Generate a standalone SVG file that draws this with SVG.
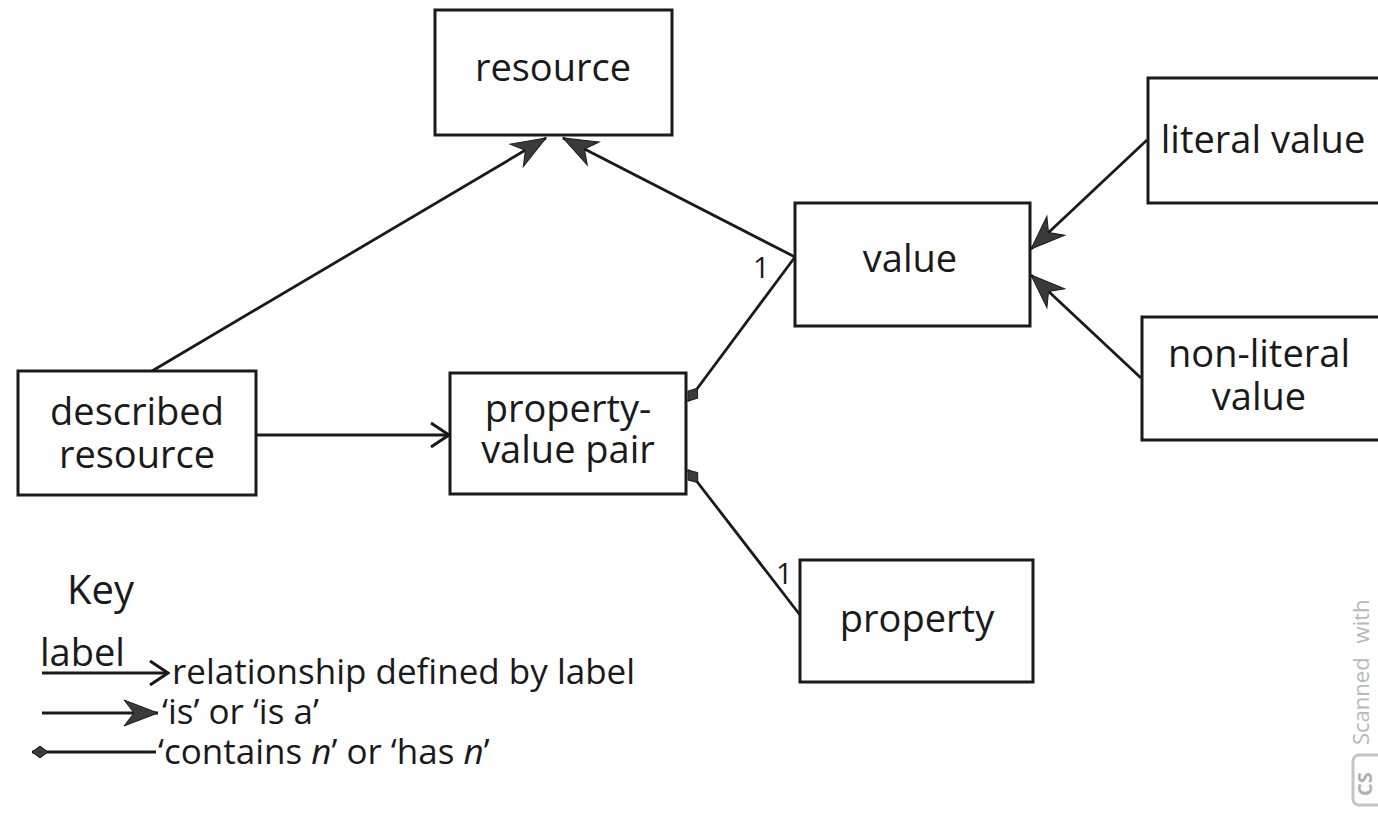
<svg xmlns="http://www.w3.org/2000/svg" width="1378" height="813" viewBox="0 0 1378 813">
  <style>
    .box { fill: #ffffff; stroke: #1a1a1a; stroke-width: 3; }
    .lbl { font-family: "Open Sans", "Noto Sans", "Liberation Sans", sans-serif; font-size: 38px; fill: #1a1a1a; text-anchor: middle; }
    .key { font-family: "Open Sans", "Noto Sans", "Liberation Sans", sans-serif; font-size: 35px; fill: #1a1a1a; }
    .num { font-family: "Open Sans", "Noto Sans", "Liberation Sans", sans-serif; font-size: 29px; fill: #1a1a1a; }
    .edge { fill: none; stroke: #1a1a1a; stroke-width: 2.8; }
    .mark { font-family: "Open Sans", "Noto Sans", "Liberation Sans", sans-serif; font-size: 22px; fill: #b8b8b8; }
  </style>
  <defs>
    <!-- filled barbed arrowhead: 'is' / 'is a' -->
    <marker id="isA" markerUnits="userSpaceOnUse" viewBox="-36 -15 38 30" refX="0" refY="0" markerWidth="38" markerHeight="30" orient="auto">
      <path d="M0,0 L-34,-13 L-24,0 L-34,13 Z" fill="#3a3a3a" stroke="#1a1a1a" stroke-width="1"/>
    </marker>
    <!-- open chevron: relationship defined by label -->
    <marker id="rel" markerUnits="userSpaceOnUse" viewBox="-22 -14 24 28" refX="0" refY="0" markerWidth="24" markerHeight="28" orient="auto">
      <path d="M-18,-12 L0,0 L-18,12" fill="none" stroke="#1a1a1a" stroke-width="3"/>
    </marker>
    <!-- small diamond: 'contains n' / 'has n' -->
    <marker id="has" markerUnits="userSpaceOnUse" viewBox="-1 -8 18 16" refX="0" refY="0" markerWidth="18" markerHeight="16" orient="auto">
      <path d="M0,0 L8,-6 L16,0 L8,6 Z" fill="#3a3a3a" stroke="#1a1a1a" stroke-width="1"/>
    </marker>
  </defs>

  <rect width="1378" height="813" fill="#ffffff"/>

  <!-- connectors -->
  <g id="connectors">
    <line class="edge" x1="152" y1="371" x2="546" y2="138" marker-end="url(#isA)"/>
    <line class="edge" x1="795" y1="257" x2="563" y2="138" marker-end="url(#isA)"/>
    <line class="edge" x1="1147" y1="140" x2="1031" y2="249" marker-end="url(#isA)"/>
    <line class="edge" x1="1141" y1="378" x2="1031" y2="275" marker-end="url(#isA)"/>
    <line class="edge" x1="688" y1="401" x2="795" y2="257" marker-start="url(#has)"/>
    <line class="edge" x1="688" y1="470" x2="800" y2="615" marker-start="url(#has)"/>
    <line class="edge" x1="257" y1="435" x2="449" y2="435" marker-end="url(#rel)"/>
    <text class="num" x="753" y="278">1</text>
    <text class="num" x="776" y="584">1</text>
  </g>

  <!-- nodes -->
  <g id="resource">
    <rect class="box" x="435" y="10" width="237" height="125"/>
    <text class="lbl" x="553" y="81">resource</text>
  </g>
  <g id="value">
    <rect class="box" x="795" y="203" width="235" height="123"/>
    <text class="lbl" x="910" y="272">value</text>
  </g>
  <g id="literal-value">
    <rect class="box" x="1148" y="78" width="240" height="125"/>
    <text class="lbl" x="1263" y="153">literal value</text>
  </g>
  <g id="non-literal-value">
    <rect class="box" x="1142" y="317" width="246" height="123"/>
    <text class="lbl" x="1259" y="367">non-literal</text>
    <text class="lbl" x="1259" y="410">value</text>
  </g>
  <g id="described-resource">
    <rect class="box" x="18" y="371" width="238" height="124"/>
    <text class="lbl" x="137" y="425">described</text>
    <text class="lbl" x="137" y="468">resource</text>
  </g>
  <g id="property-value-pair">
    <rect class="box" x="450" y="373" width="236" height="121"/>
    <text class="lbl" x="568" y="422">property-</text>
    <text class="lbl" x="568" y="463">value pair</text>
  </g>
  <g id="property">
    <rect class="box" x="800" y="560" width="233" height="122"/>
    <text class="lbl" x="917" y="632">property</text>
  </g>

  <!-- key -->
  <g id="key">
    <text class="key" x="67" y="604" style="font-size:40px">Key</text>
    <text class="key" x="40" y="666" style="font-size:38px">label</text>
    <line class="edge" x1="42" y1="673" x2="168" y2="673" marker-end="url(#rel)"/>
    <text class="key" x="172" y="684">relationship defined by label</text>
    <line class="edge" x1="42" y1="713" x2="158" y2="713" marker-end="url(#isA)"/>
    <text class="key" x="162" y="724">‘is’ or ‘is a’</text>
    <line class="edge" x1="32" y1="752" x2="156" y2="752" marker-start="url(#has)"/>
    <text class="key" x="158" y="764">‘contains <tspan font-style="italic">n</tspan>’ or ‘has <tspan font-style="italic">n</tspan>’</text>
  </g>

  <!-- scanner stamp -->
  <g id="stamp">
    <text class="mark" transform="translate(1369,745) rotate(-90)">Scanned<tspan dx="14">with</tspan></text>
    <rect x="1353" y="755" width="34" height="50" rx="6" fill="none" stroke="#c4c4c4" stroke-width="3"/>
    <text class="mark" transform="translate(1372,796) rotate(-90)" style="font-size:20px;font-weight:bold;fill:#b0b0b0">CS</text>
  </g>
</svg>
